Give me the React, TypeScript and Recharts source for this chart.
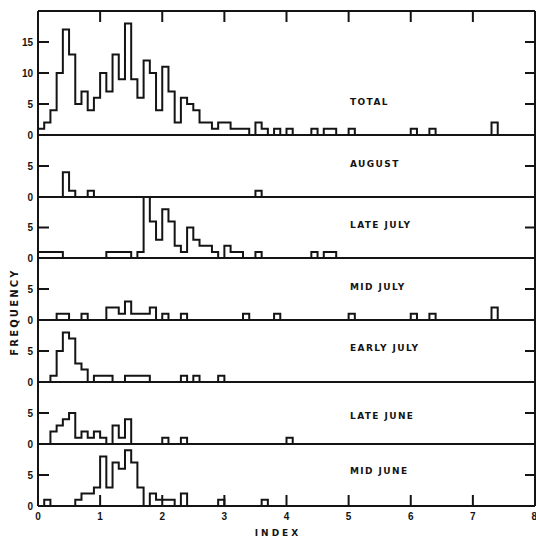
import { LineChart, Line, XAxis, YAxis } from "recharts"

// histogram counts per 0.1-wide index bin, starting at index 0
const total = [
  1, 2, 4, 10, 17, 13, 5, 7, 4, 6,
  10, 7, 13, 9, 18, 9, 6, 12, 10, 4,
  11, 7, 2, 6, 5, 4, 2, 2, 1, 2,
  2, 1, 1, 1, 0, 2, 1, 0, 1, 0,
  1, 0, 0, 0, 1, 0, 1, 1, 0, 0,
  1, 0, 0, 0, 0, 0, 0, 0, 0, 0,
  1, 0, 0, 1, 0, 0, 0, 0, 0, 0,
  0, 0, 0, 2,
]
const august = [
  0, 0, 0, 0, 4, 1, 0, 0, 1, 0,
  0, 0, 0, 0, 0, 0, 0, 0, 0, 0,
  0, 0, 0, 0, 0, 0, 0, 0, 0, 0,
  0, 0, 0, 0, 0, 1,
]
const lateJuly = [
  1, 1, 1, 1, 0, 0, 0, 0, 0, 0,
  0, 1, 1, 1, 1, 0, 1, 10, 6, 3,
  8, 6, 2, 1, 5, 3, 2, 2, 1, 0,
  2, 1, 1, 0, 0, 1, 0, 0, 0, 0,
  0, 0, 0, 0, 1, 0, 1, 1,
]
const midJuly = [
  0, 0, 0, 1, 1, 0, 0, 1, 0, 0,
  0, 2, 2, 1, 3, 1, 1, 1, 2, 0,
  1, 0, 0, 1, 0, 0, 0, 0, 0, 0,
  0, 0, 0, 1, 0, 0, 0, 0, 1, 0,
  0, 0, 0, 0, 0, 0, 0, 0, 0, 0,
  1, 0, 0, 0, 0, 0, 0, 0, 0, 0,
  1, 0, 0, 1, 0, 0, 0, 0, 0, 0,
  0, 0, 0, 2,
]
const earlyJuly = [
  0, 0, 1, 5, 8, 7, 3, 2, 0, 1,
  1, 1, 0, 0, 1, 1, 1, 1, 0, 0,
  0, 0, 0, 1, 0, 1, 0, 0, 0, 1,
]
const lateJune = [
  0, 0, 2, 3, 4, 5, 1, 2, 1, 2,
  1, 0, 3, 1, 4, 0, 0, 0, 0, 0,
  1, 0, 0, 1, 0, 0, 0, 0, 0, 0,
  0, 0, 0, 0, 0, 0, 0, 0, 0, 0,
  1,
]
const midJune = [
  0, 1, 0, 0, 0, 0, 1, 2, 2, 3,
  8, 3, 7, 6, 9, 7, 3, 0, 2, 1,
  1, 1, 0, 2, 0, 0, 0, 0, 0, 1,
  0, 0, 0, 0, 0, 0, 1,
]

const xTicks = [0, 1, 2, 3, 4, 5, 6, 7, 8]
const innerXTicks = [1, 2, 3, 4, 5, 6, 7]
const totalYTicks = [0, 5, 10, 15]
const subYTicks = [0, 5]

const INK = "#141414"
const NBINS = 80

const panels = [
  { label: "TOTAL", counts: total, top: 12, bottom: 135, yMax: 20, yTicks: totalYTicks },
  { label: "AUGUST", counts: august, top: 135, bottom: 197, yMax: 10, yTicks: subYTicks },
  { label: "LATE JULY", counts: lateJuly, top: 197, bottom: 258, yMax: 10, yTicks: subYTicks },
  { label: "MID JULY", counts: midJuly, top: 258, bottom: 320, yMax: 10, yTicks: subYTicks },
  { label: "EARLY JULY", counts: earlyJuly, top: 320, bottom: 382, yMax: 10, yTicks: subYTicks },
  { label: "LATE JUNE", counts: lateJune, top: 382, bottom: 444, yMax: 10, yTicks: subYTicks },
  { label: "MID JUNE", counts: midJune, top: 444, bottom: 506, yMax: 10, yTicks: subYTicks },
]

function toSteps(counts: number[]) {
  const pts = []
  for (let i = 0; i <= NBINS; i++) {
    pts.push({ x: i / 10, y: i < counts.length ? counts[i] : 0 })
  }
  return pts
}

const FONT = "Liberation Sans, Arial, sans-serif"
const tickFont = { fontSize: 10, fontWeight: 700, fill: INK, fontFamily: FONT }
const PAD = 9
const line2 = { stroke: INK, strokeWidth: 2 }
const noLabel = () => <g />

// bottom index labels; the last one is kept inside the page edge
function IndexTick(props: any) {
  const { x, y, payload } = props
  const isLast = payload.value === 8
  return (
    <text
      x={x}
      y={y}
      dy="0.71em"
      textAnchor={isLast ? "end" : "middle"}
      dx={isLast ? 2 : 0}
      fontSize={10}
      fontWeight={700}
      fill={INK}
      fontFamily={FONT}
    >
      {payload.value}
    </text>
  )
}

function Panel({ p, first, last }: { p: any; first: boolean; last: boolean }) {
  const plotH = p.bottom - p.top
  const bottomSpace = last ? 28 : 1
  const topSpace = first ? 1 : 0
  const h = plotH + PAD * 2 + bottomSpace + topSpace
  const innerY = p.yTicks.filter((t: number) => t > 0)
  return (
    <div style={{ position: "absolute", left: 0, top: p.top - PAD - topSpace, width: 536, height: h }}>
      <LineChart width={536} height={h} data={toSteps(p.counts)} margin={{ top: PAD, right: 1, bottom: PAD, left: 0 }}>
        <XAxis
          dataKey="x"
          type="number"
          domain={[0, 8]}
          ticks={last ? xTicks : [0]}
          height={bottomSpace}
          axisLine={line2}
          tickLine={false}
          tickSize={0}
          tickMargin={7}
          tick={last ? <IndexTick /> : false}
          interval={0}
        />
        {last && (
          <XAxis
            xAxisId="bt"
            mirror
            dataKey="x"
            type="number"
            domain={[0, 8]}
            ticks={innerXTicks}
            axisLine={false}
            tickLine={line2}
            tickSize={11}
            tick={noLabel}
            interval={0}
          />
        )}
        {first && (
          <XAxis
            xAxisId="top"
            orientation="top"
            mirror
            dataKey="x"
            type="number"
            domain={[0, 8]}
            ticks={innerXTicks}
            axisLine={line2}
            tickLine={line2}
            tickSize={11}
            tick={noLabel}
            interval={0}
          />
        )}
        <YAxis
          type="number"
          domain={[0, p.yMax]}
          ticks={p.yTicks}
          width={38}
          allowDataOverflow
          axisLine={line2}
          tickLine={false}
          tickSize={0}
          tickMargin={5}
          tick={tickFont}
          interval={0}
        />
        <YAxis
          yAxisId="lt"
          mirror
          dataKey="y"
          type="number"
          domain={[0, p.yMax]}
          ticks={innerY}
          allowDataOverflow
          axisLine={false}
          tickLine={line2}
          tickSize={11}
          tick={noLabel}
          interval={0}
        />
        <YAxis
          yAxisId="r"
          orientation="right"
          mirror
          dataKey="y"
          type="number"
          domain={[0, p.yMax]}
          ticks={innerY}
          allowDataOverflow
          axisLine={line2}
          tickLine={line2}
          tickSize={10}
          tick={noLabel}
          interval={0}
        />
        <Line
          type="stepAfter"
          dataKey="y"
          stroke={INK}
          strokeWidth={2}
          dot={false}
          isAnimationActive={false}
        />
      </LineChart>
    </div>
  )
}

const labelStyle = {
  position: "absolute" as const,
  left: 350,
  fontFamily: "DejaVu Sans, sans-serif",
  fontWeight: 700,
  fontSize: 9,
  letterSpacing: 1.4,
  color: INK,
  whiteSpace: "nowrap" as const,
  lineHeight: "10px",
}

const labelY = [102, 164, 225, 287, 348, 416, 471]

export default function App() {
  return (
    <div style={{ position: "absolute", left: 0, top: 0, width: 536, height: 539, background: "#fff" }}>
      {panels.map((p, i) => (
        <Panel key={p.label} p={p} first={i === 0} last={i === panels.length - 1} />
      ))}
      {panels.map((p, i) => (
        <div key={p.label + "-t"} style={{ ...labelStyle, top: labelY[i] - 5 }}>
          {p.label}
        </div>
      ))}
      <div
        style={{
          position: "absolute",
          left: 15 - 60,
          top: 312 - 6,
          width: 120,
          textAlign: "center",
          transform: "rotate(-90deg)",
          fontFamily: "DejaVu Sans, sans-serif",
          fontWeight: 700,
          fontSize: 10,
          letterSpacing: 2.2,
          lineHeight: "12px",
          color: INK,
        }}
      >
        FREQUENCY
      </div>
      <div
        style={{
          position: "absolute",
          left: 278 - 40,
          top: 528,
          width: 80,
          textAlign: "center",
          fontFamily: "DejaVu Sans, sans-serif",
          fontWeight: 700,
          fontSize: 9,
          letterSpacing: 3,
          lineHeight: "11px",
          color: INK,
        }}
      >
        INDEX
      </div>
    </div>
  )
}
